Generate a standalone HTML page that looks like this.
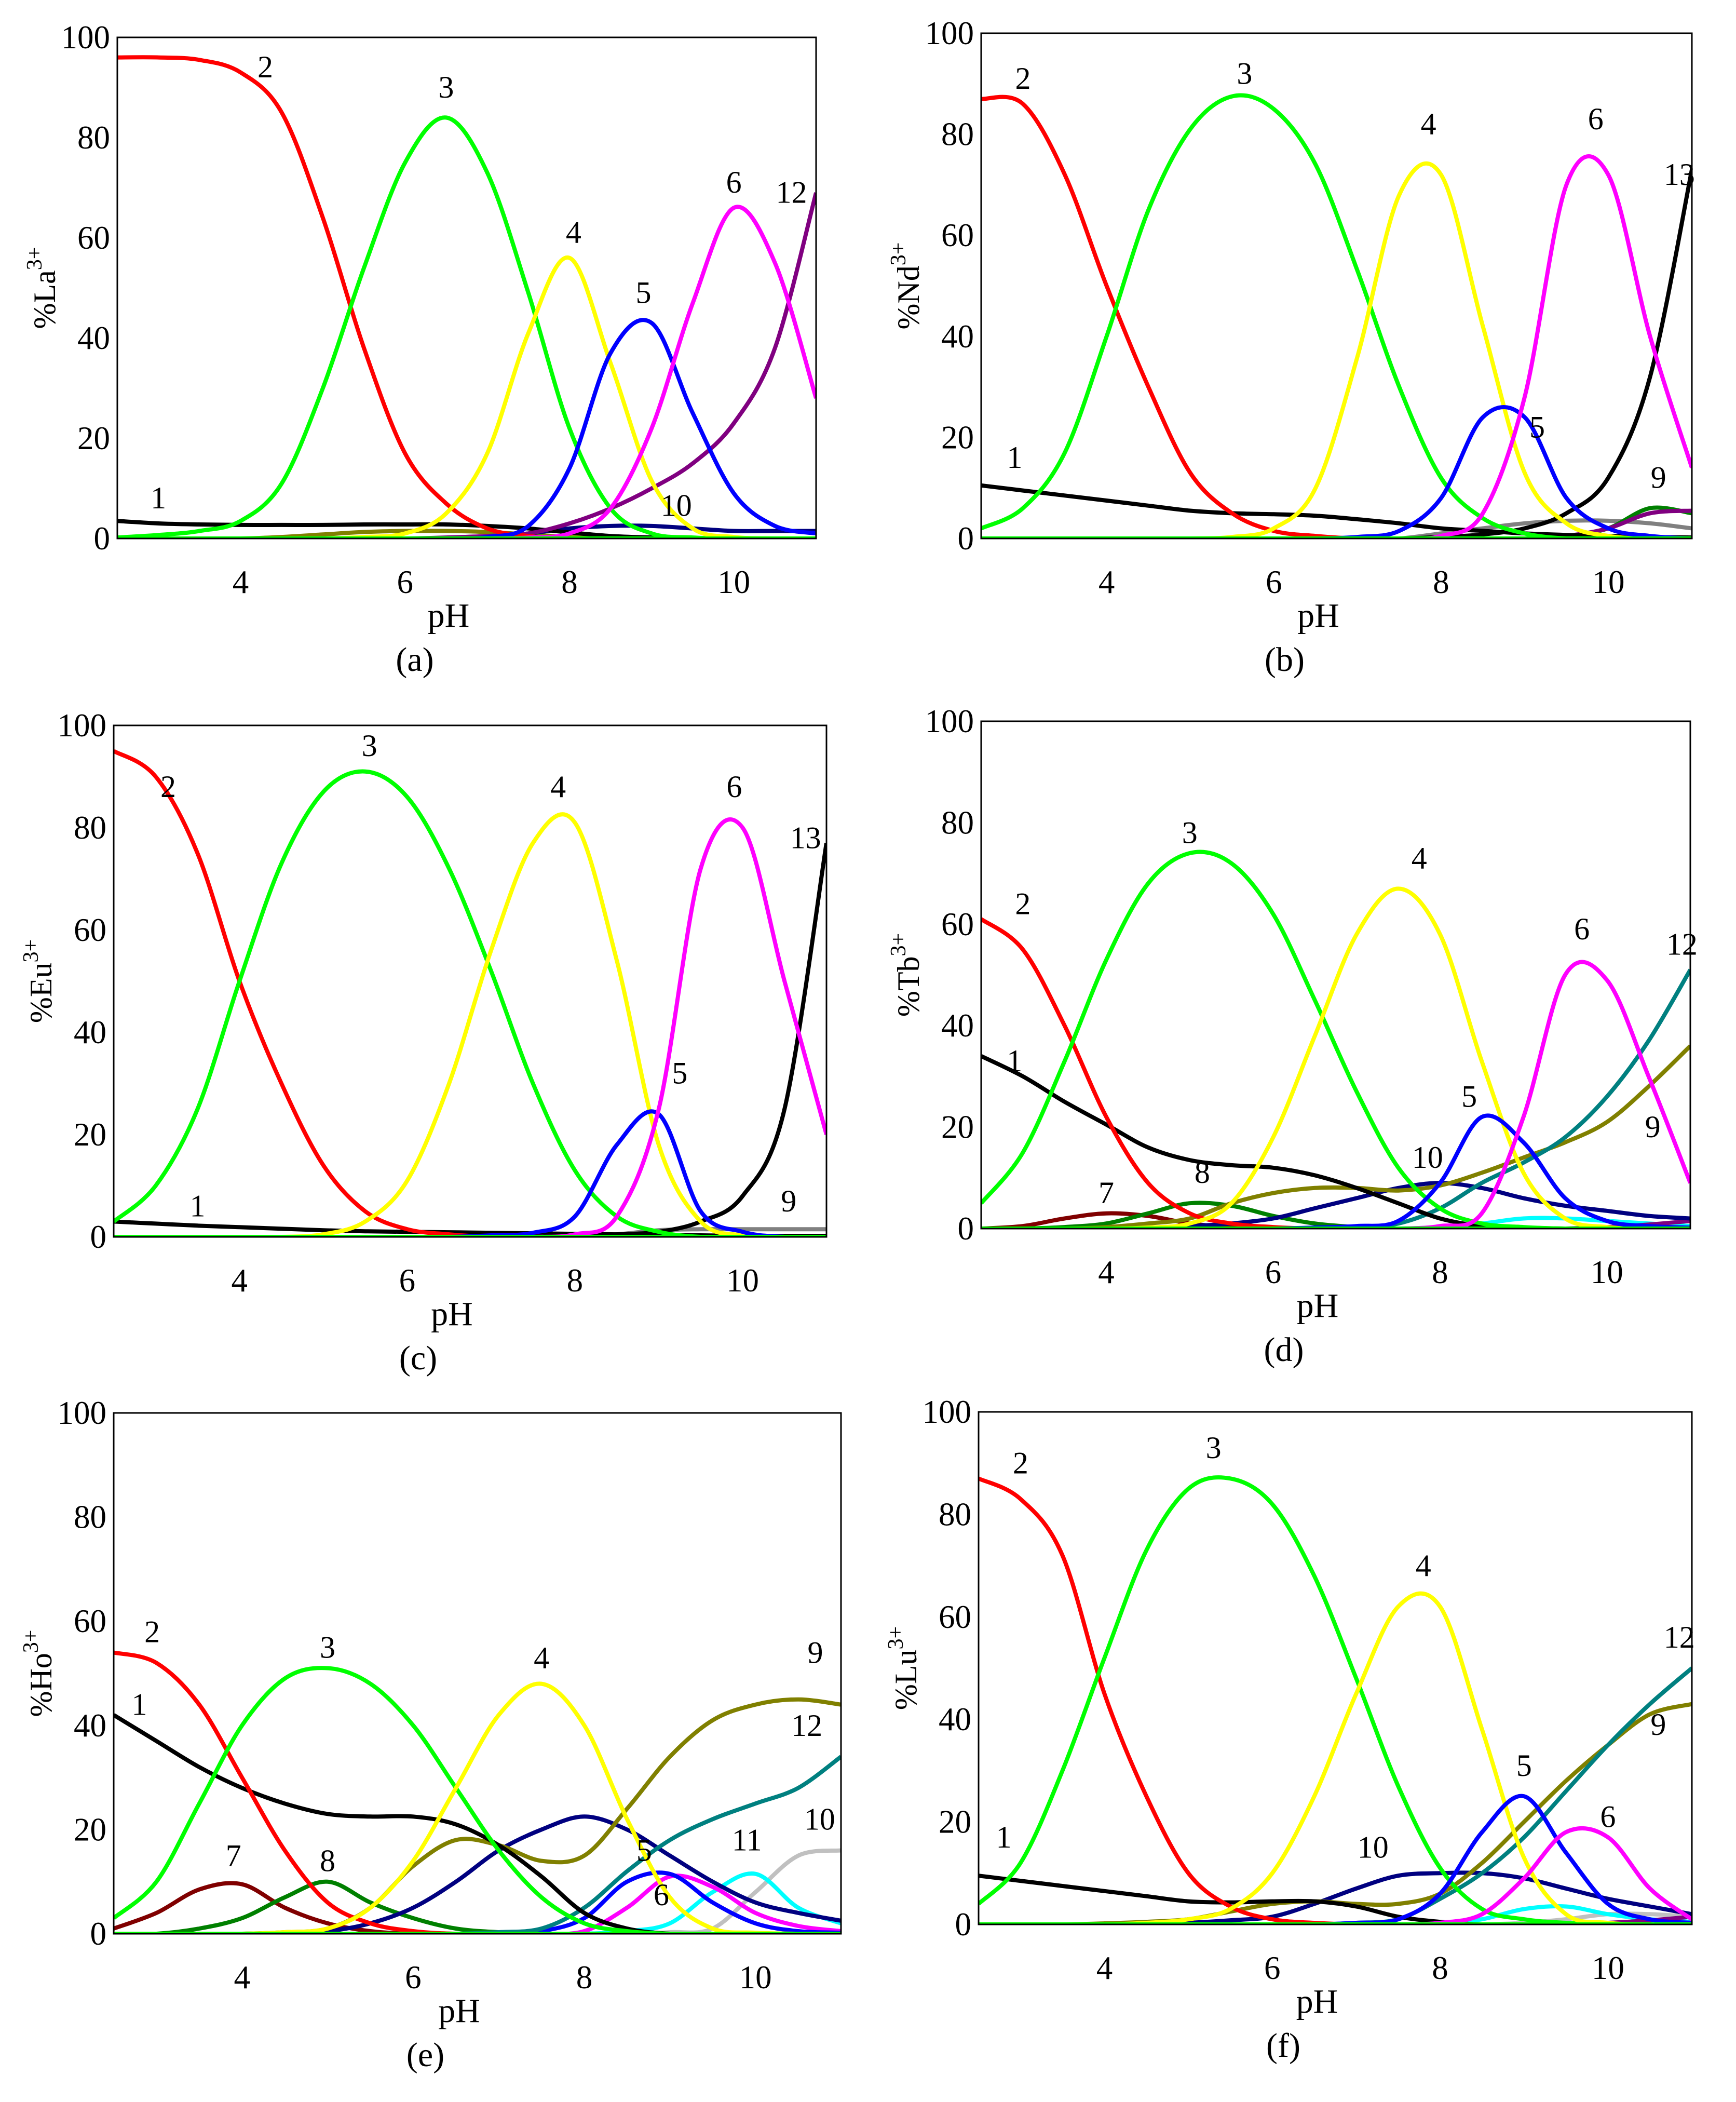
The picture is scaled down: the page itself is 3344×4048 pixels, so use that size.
<!DOCTYPE html>
<html><head><meta charset="utf-8"><style>
html,body{margin:0;padding:0;background:#fff;}
svg{display:block;}
text{font-family:"Liberation Serif",serif;fill:#000;}
</style></head><body>
<svg id="fig" width="3344" height="4048" viewBox="0 0 3344 4048" xmlns="http://www.w3.org/2000/svg"></svg>
<script>
const pH = [2.5,3,3.5,4,4.5,5,5.5,6,6.5,7,7.5,8,8.5,9,9.5,10,10.5,11];
const xTicks = [4,6,8,10];
const yTicks = [0,20,40,60,80,100];
const zero = [0,0,0,0,0,0,0,0,0,0,0,0,0,0,0,0,0,0];

// (a) La
const a1 = [3.5,3,2.8,2.7,2.7,2.7,2.8,2.8,2.8,2.5,2,1.2,0.5,0.2,0,0,0,0];
const a2 = [96,96,95.5,93,85,64,38,17,7,2,0.5,0,0,0,0,0,0,0];
const a3 = [0.2,0.7,1.5,3.5,11,30,54,75,84,73,49,22,6,1,0.2,0,0,0];
const a4 = [0,0,0,0,0,0,0.3,1,5,17,41,56,35,11.5,2,0.3,0,0];
const a5 = [0,0,0,0,0,0,0,0,0,0.3,2.5,14,37,43,25,9,2.5,1];
const a6 = [0,0,0,0,0,0,0,0,0,0,0.2,1,6,22,47,66,55,28];
const a12 = [0,0,0,0,0,0,0,0,0.2,0.5,1,3,6,10,15,23,38,69];
const a10 = [0,0,0,0,0,0,0,0,0,0.3,1,2,2.5,2.5,2,1.5,1.5,1.5];
const aOl = [0,0,0,0,0.3,0.8,1.3,1.5,1.5,1.3,0.8,0.3,0,0,0,0,0,0];
// (b) Nd
const b1 = [10.5,9.5,8.5,7.5,6.5,5.5,5,4.8,4.5,3.8,3,2,1.5,1,0.7,0.5,0.3,0.2];
const b2 = [87,86,72,50,30,13,5,1.5,0.5,0,0,0,0,0,0,0,0,0];
const b3 = [2,6,17,40,65,81,87.5,85,74,53,30,12,4,1,0,0,0,0];
const b4 = [0,0,0,0,0,0,0.3,2,10,36,68,72,42,13,3,0.5,0,0];
const b5 = [0,0,0,0,0,0,0,0,0,0.3,1.5,8,24,24,8,2,0.5,0];
const b6 = [0,0,0,0,0,0,0,0,0,0,0,0.5,5,28,70,72,40,14];
const b13 = [0,0,0,0,0,0,0,0,0,0,0,0.3,0.8,2,5,12,32,73];
const b9 = [0,0,0,0,0,0,0,0,0,0,0,0,0,0,0.5,2,6,5];
const bGr = [0,0,0,0,0,0,0,0,0,0,0,1,2,3,3.5,3.5,3,2];
const bPu = [0,0,0,0,0,0,0,0,0,0,0,0,0,0,0.5,2,5,5.5];
// (c) Eu
const c1 = [3,2.6,2.2,1.9,1.6,1.3,1.1,1,0.9,0.8,0.7,0.6,0.5,0.4,0.3,0.2,0.2,0.2];
const c2 = [95,90,75,50,30,14,5,1.5,0.5,0,0,0,0,0,0,0,0,0];
const c3 = [3,10,25,50,73,87,91,86,72,52,30,13,4,1,0,0,0,0];
const c4 = [0,0,0,0,0,0.5,3,11,30,56,77,81,54,18,3,0.3,0,0];
const c5 = [0,0,0,0,0,0,0,0,0,0.3,0.8,4,18,24,5,1,0,0];
const c6 = [0,0,0,0,0,0,0,0,0,0,0,0.5,4,25,72,80,50,20];
const c13 = [0,0,0,0,0,0,0,0,0,0,0,0.2,0.5,1,3,8,25,77];
const c9 = [0,0,0,0,0,0,0,0,0,0,0,0.2,0.5,1.3,1.5,1.5,1.5,1.5];
// (d) Tb
const d1 = [34,30,25,20.5,16,13.5,12.5,12,10.5,8,5,2,0.5,0.2,0,0,0,0];
const d2 = [61,55,40,22,9,3,1,0.3,0,0,0,0,0,0,0,0,0,0];
const d3 = [5,15,33,53,68,74,72,62,45,27,12,4,1,0.3,0,0,0,0];
const d4 = [0,0,0,0,0.2,1,5,18,38,58,67,58,33,11,2,0.3,0,0];
const d5 = [0,0,0,0,0,0,0,0,0.2,0.5,1.5,9,22,17,6,1.5,0.5,0.2];
const d6 = [0,0,0,0,0,0,0,0,0,0,0,0.5,3,22,50,49,30,9];
const d12 = [0,0,0,0,0,0,0,0,0,0.3,1,4,9,13,18,26,37,51];
const d9 = [0,0,0,0.3,1,2,5,7,8,8,7.5,8.5,11,14,17,21,28,36];
const d10 = [0,0,0,0,0.2,0.5,1,2,4,6,8,9,8,6,4.5,3.5,2.5,2];
const d7 = [0,0.5,2,3,2.5,1,0.3,0,0,0,0,0,0,0,0,0,0,0];
const d8 = [0,0,0.3,1,3,5,4.5,2.5,1,0.3,0,0,0,0,0,0,0,0];
const dCy = [0,0,0,0,0,0,0,0,0,0,0,0.3,1,2,2,1.5,1,0.5];
const dPu = [0,0,0,0,0,0,0,0,0,0,0,0,0,0,0,0.3,0.8,1.5];
// (e) Ho
const e1 = [42,37,32,28,25,23,22.5,22.5,21,17,11,4,1,0,0,0,0,0];
const e2 = [54,52,44,30,16,6,2,0.5,0,0,0,0,0,0,0,0,0,0];
const e3 = [3,10,25,40,49,51,48,40,28,16,7,2,0.5,0,0,0,0,0];
const e4 = [0,0,0,0,0.3,1,5,14,28,42,48,40,22,7,1,0.2,0,0];
const e5 = [0,0,0,0,0,0,0,0,0,0,0.5,3,10,11.5,6,2,0.5,0.2];
const e6 = [0,0,0,0,0,0,0,0,0,0,0,0.5,5,11,9,4,1.5,0.5];
const e7 = [1,4,8.5,9.5,5,2,0.5,0,0,0,0,0,0,0,0,0,0,0];
const e8 = [0,0,1,3,7,10,6,3,1,0.3,0,0,0,0,0,0,0,0];
const e9 = [0,0,0,0,0.3,1,5,13,18,17,14,15,24,34,41,44,45,44];
const e10 = [0,0,0,0,0.2,0.5,2,5,10,16,20,22.5,20,15,10,6,4,2.5];
const e10g = [0,0,0,0,0,0,0,0,0,0,0,0,0,0.3,1,8,15,16];
const e11 = [0,0,0,0,0,0,0,0,0,0,0,0,0.5,2,8,11.5,5,2];
const e12 = [0,0,0,0,0,0,0,0,0,0.3,1,5,12,18,22,25,28,34];
// (f) Lu
const f1 = [9.5,8.5,7.5,6.5,5.5,4.5,4.3,4.5,4.5,3.5,1.5,0.5,0,0,0,0,0,0];
const f2 = [87,83,72,45,25,10,3.5,1,0.3,0,0,0,0,0,0,0,0,0];
const f3 = [4,12,30,52,73,85,87,82,68,48,27,11,3,1,0.3,0,0,0];
const f4 = [0,0,0,0,0.3,1,3,10,25,45,62,62,38,13,2,0.3,0,0];
const f5 = [0,0,0,0,0,0,0,0,0,0.3,1,6,18,25,14,4,1,0.3];
const f6 = [0,0,0,0,0,0,0,0,0,0,0,0.3,2,9,18,17,7,1];
const f9 = [0,0,0,0.2,0.5,1,2.5,4,4.5,4,4,6,12,20,28,35,41,43];
const f10 = [0,0,0,0,0,0.3,0.8,1.5,4,7,9.5,10,10,9,7,5,3.5,2];
const f12 = [0,0,0,0,0,0,0,0,0,0.3,1,5,10,17,26,35,43,50];
const fCy = [0,0,0,0,0,0,0,0,0,0,0,0,1,3,3.5,2,1,0.5];
const fGr = [0,0,0,0,0,0,0,0,0,0,0,0,0,0.3,1,2,2,1.5];
const fPu = [0,0,0,0,0,0,0,0,0,0,0,0,0,0,0,0.3,0.8,1.5];

const C = {red:'#ff0000',grn:'#00ff00',yel:'#ffff00',blu:'#0000ff',mag:'#ff00ff',pur:'#800080',blk:'#000000',nav:'#000080',olv:'#808000',tea:'#008080',brn:'#800000',dgr:'#008000',cya:'#00ffff',gry:'#808080',lgr:'#c0c0c0'};

const panels = [
 {id:'a',el:'La',L:226,T:72,R:1572,B:1037,series:[[aOl,'olv'],[a10,'nav'],[a1,'blk'],[a12,'pur'],[a2,'red'],[a3,'grn'],[a4,'yel'],[a5,'blu'],[a6,'mag'],[zero,'grn']],
  labels:[['1',3.0,6],['2',4.3,92],['3',6.5,88],['4',8.05,59],['5',8.9,47],['6',10.0,69],['12',10.7,67],['10',9.3,4.5]]},
 {id:'b',el:'Nd',L:1890,T:64,R:3259,B:1037,series:[[bGr,'gry'],[b9,'dgr'],[bPu,'pur'],[b1,'blk'],[b13,'blk'],[b2,'red'],[b3,'grn'],[b4,'yel'],[b5,'blu'],[b6,'mag'],[zero,'grn']],
  labels:[['1',2.9,14],['2',3.0,89],['3',5.65,90],['4',7.85,80],['5',9.15,20],['6',9.85,81],['13',10.85,70],['9',10.6,10]]},
 {id:'c',el:'Eu',L:219,T:1397,R:1592,B:2382,series:[[c9,'gry'],[c1,'blk'],[c13,'blk'],[c2,'red'],[c3,'grn'],[c4,'yel'],[c5,'blu'],[c6,'mag'],[zero,'grn']],
  labels:[['1',3.5,4],['2',3.15,86],['3',5.55,94],['4',7.8,86],['5',9.25,30],['6',9.9,86],['13',10.75,76],['9',10.55,5]]},
 {id:'d',el:'Tb',L:1890,T:1389,R:3256,B:2366,series:[[dCy,'cya'],[dPu,'pur'],[d7,'brn'],[d8,'dgr'],[d10,'nav'],[d9,'olv'],[d12,'tea'],[d1,'blk'],[d2,'red'],[d3,'grn'],[d4,'yel'],[d5,'blu'],[d6,'mag'],[zero,'grn']],
  labels:[['1',2.9,31],['2',3.0,62],['3',5.0,76],['4',7.75,71],['5',8.35,24],['6',9.7,57],['12',10.9,54],['9',10.55,18],['10',7.85,12],['7',4.0,5],['8',5.15,9]]},
 {id:'e',el:'Ho',L:219,T:2721,R:1620,B:3724,series:[[e10g,'lgr'],[e11,'cya'],[e6,'mag'],[e5,'blu'],[e7,'brn'],[e8,'dgr'],[e10,'nav'],[e9,'olv'],[e12,'tea'],[e1,'blk'],[e2,'red'],[e3,'grn'],[e4,'yel'],[zero,'grn']],
  labels:[['1',2.8,42],['2',2.95,56],['3',5.0,53],['4',7.5,51],['5',8.7,14],['6',8.9,5.5],['9',10.7,52],['12',10.6,38],['11',9.9,16],['10',10.75,20],['7',3.9,13],['8',5.0,12]]},
 {id:'f',el:'Lu',L:1885,T:2719,R:3259,B:3706,series:[[fGr,'lgr'],[fCy,'cya'],[fPu,'pur'],[f10,'nav'],[f9,'olv'],[f12,'tea'],[f1,'blk'],[f2,'red'],[f3,'grn'],[f4,'yel'],[f5,'blu'],[f6,'mag'],[zero,'grn']],
  labels:[['1',2.8,15],['2',3.0,88],['3',5.3,91],['4',7.8,68],['5',9.0,29],['6',10.0,19],['12',10.85,54],['9',10.6,37],['10',7.2,13]]}
];

const NS='http://www.w3.org/2000/svg';
const svg=document.getElementById('fig');
function mk(tag,attrs,parent){const e=document.createElementNS(NS,tag);for(const k in attrs)e.setAttribute(k,attrs[k]);parent.appendChild(e);return e;}
function pathFrom(pts){
  let d='M'+pts[0][0].toFixed(1)+','+pts[0][1].toFixed(1);
  for(let i=0;i<pts.length-1;i++){
    const p0=pts[Math.max(0,i-1)],p1=pts[i],p2=pts[i+1],p3=pts[Math.min(pts.length-1,i+2)];
    const c1x=p1[0]+(p2[0]-p0[0])/6,c1y=p1[1]+(p2[1]-p0[1])/6;
    const c2x=p2[0]-(p3[0]-p1[0])/6,c2y=p2[1]-(p3[1]-p1[1])/6;
    d+=' C'+c1x.toFixed(1)+','+c1y.toFixed(1)+' '+c2x.toFixed(1)+','+c2y.toFixed(1)+' '+p2[0].toFixed(1)+','+p2[1].toFixed(1);
  }
  return d;
}
panels.forEach(p=>{
  const xs=v=>p.L+(v-2.5)/(11-2.5)*(p.R-p.L);
  const ys=v=>p.B-v/100*(p.B-p.T);
  const g=mk('g',{},svg);
  
  
  const cp=mk('clipPath',{id:'clip'+p.id},g);
  mk('rect',{x:p.L,y:p.T-10,width:p.R-p.L,height:p.B-p.T+10},cp);
  const sg=mk('g',{'clip-path':'url(#clip'+p.id+')'},g);
  p.series.forEach((s,si)=>{
    const pts=pH.map((x,i)=>[xs(x),ys(s[0][i])]);
    const path=mk('path',{d:pathFrom(pts),fill:'none',stroke:C[s[1]],'stroke-width':8,'stroke-linejoin':'round'},sg);
    
    
  });
  const fr=mk('rect',{x:p.L,y:p.T,width:p.R-p.L,height:p.B-p.T,fill:'none',stroke:'#000','stroke-width':3},g);
  
  
  yTicks.forEach(v=>{
    const t=mk('text',{x:p.L-14,y:ys(v)+21,'text-anchor':'end','font-size':63},g);
    t.textContent=v;
    
    
  });
  xTicks.forEach(v=>{
    const t=mk('text',{x:xs(v),y:p.B+105,'text-anchor':'middle','font-size':63},g);
    t.textContent=v;
    
    
  });
  const cx=(p.L+p.R)/2;
  const xt=mk('text',{x:cx-35,y:p.B+170,'text-anchor':'middle','font-size':66},g);
  xt.textContent='pH';
  
  
  const pl=mk('text',{x:cx-100,y:p.B+255,'text-anchor':'middle','font-size':66},g);
  pl.textContent='('+p.id+')';
  
  
  const cy=(p.T+p.B)/2;
  const yt=mk('text',{transform:'translate('+(p.L-120)+','+cy+') rotate(-90)','text-anchor':'middle','font-size':60},g);
  
  
  const t1=mk('tspan',{},yt); t1.textContent='%'+p.el;
  const t2=mk('tspan',{dy:-26,'font-size':42},yt); t2.textContent='3+';
  p.labels.forEach(l=>{
    const t=mk('text',{x:xs(l[1]),y:ys(l[2]),'text-anchor':'middle','font-size':60},g);
    t.textContent=l[0];
    
    
  });
});
</script>
</body></html>
